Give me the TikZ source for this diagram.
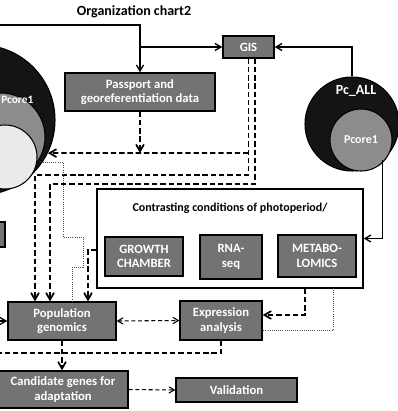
\documentclass[tikz,border=0pt]{standalone}
\usepackage{fontspec}
\setmainfont{Carlito}
\usetikzlibrary{arrows}
\begin{document}
\begin{tikzpicture}[x=0.75pt,y=-0.75pt,>=angle 60,
	box/.style={draw=black,line width=1pt,fill=black!55,text=white,inner sep=0pt,align=center,font=\bfseries\fontsize{9.5}{11}\selectfont},
	ring/.style={circle,draw=black,line width=0.8pt,inner sep=0pt},
	solidline/.style={line width=1pt},
	dashline/.style={line width=1.3pt,dash pattern=on 4pt off 2.2pt},
	thindash/.style={line width=0.8pt,dash pattern=on 3pt off 2pt},
	dotline/.style={line width=0.6pt,densely dotted,black!70}]
	\useasboundingbox (0,0) rectangle (398,411);
	\clip (0,0) rectangle (398,411);
	% circles
	\node[ring,fill=black!92,minimum size=112.5pt] (leftouter) at (-20,120) {};
	\node[ring,fill=black!45,minimum size=66pt] (leftmid) at (1,137) {};
	\node[ring,fill=black!8,minimum size=48pt] (leftinner) at (5,157) {};
	\node[anchor=east,text=white,font=\bfseries\fontsize{8.5}{9}\selectfont] (lefttxt) at (38,100) {Pcore1};
	\node[ring,fill=black!92,minimum size=70.5pt] (pcall) at (352,124) {};
	\node[ring,fill=black!45,minimum size=46.5pt,text=white,font=\bfseries\fontsize{9}{10}\selectfont] (pcore) at (361,140) {Pcore1};
	\node[text=white,font=\bfseries\fontsize{10.5}{11}\selectfont] (pcalltxt) at (356,91) {Pc\_ALL};
	% title
	\node[font=\bfseries\fontsize{10.5}{11}\selectfont] (title) at (134,12) {Organization chart2};
	% frame of the photoperiod block
	\node[draw=black,line width=1pt,fill=white,minimum width=199.5pt,minimum height=74.25pt] (contrast) at (230,238.5) {};
	\node[font=\bfseries\fontsize{9}{10}\selectfont] (contrasttxt) at (230,208) {Contrasting conditions of photoperiod/};
	% boxes
	\node[box,minimum width=38.25pt,minimum height=16.5pt] (gis) at (248.5,47) {GIS};
	\node[box,minimum width=112.5pt,minimum height=28.5pt] (passport) at (140,92) {Passport and\\georeferentiation data};
	\node[box,minimum width=58.5pt,minimum height=29.25pt] (growth) at (144,256.5) {GROWTH\\CHAMBER};
	\node[box,minimum width=46.5pt,minimum height=33pt] (rnaseq) at (231,257) {RNA-\\seq};
	\node[box,minimum width=58.5pt,minimum height=31.5pt] (metab) at (317,256) {METABO-\\LOMICS};
	\node[box,minimum width=81pt,minimum height=28.5pt] (popgen) at (62,321) {Population\\genomics};
	\node[box,minimum width=61.5pt,minimum height=29.25pt] (expr) at (221,320.5) {Expression\\analysis};
	\node[box,minimum width=97.5pt,minimum height=27.75pt] (cand) at (63,389.5) {Candidate genes for\\adaptation};
	\node[box,minimum width=90.75pt,minimum height=18pt] (valid) at (236.5,390) {Validation};
	\node[box,minimum width=18.75pt,minimum height=18.75pt] (sliver) at (-7.5,234.5) {};
	% coordinates for the bends
	\coordinate (lin) at (0,25);
	\coordinate (split) at (140,47);
	\coordinate (hub) at (140,153);
	\coordinate (cA) at (35,175);
	\coordinate (cB) at (50,184);
	\coordinate (cC) at (88,250);
	\coordinate (cD) at (305,315);
	\coordinate (cE) at (0,353);
	\coordinate (lin2) at (-10,321);
	% solid connectors
	\draw[solidline,->] (lin) -| (passport.north);
	\draw[solidline,->] (split) -- (gis.west);
	\draw[solidline,->] (pcall.north) |- (gis.east);
	\draw[solidline,->] (pcall.-50) |- (contrast.east);
	\draw[solidline,->] (lin2) -- (popgen.west);
	% dashed connectors
	\draw[dashline,->] (passport.south) -- (hub);
	\draw[dashline,->] (gis.south |- hub) -- (leftouter.-26);
	\draw[dashline,->] (gis.south) |- (cA) -- (cA |- popgen.north);
	\draw[dashline,->] ([xshift=5pt]gis.south) |- (cB) -- (cB |- popgen.north);
	\draw[dashline,->] (contrast.west |- cC) -- (cC) -- (cC |- popgen.north);
	\draw[dashline,->] (cD |- contrast.south) -- (cD) -- (cD -| expr.east);
	\draw[dashline] (expr.south) |- (cE);
	\draw[dashline,->] (popgen.south) -- (popgen.south |- cand.north);
	\draw[thindash,<->] (popgen.east) -- (expr.west);
	\draw[thindash,->] (cand.east) -- (valid.west);
	% dotted connectors
	\draw[dotline] (leftouter.-34) -| (63,237) -| (83,267) -| (72,302);
	\draw[dotline] (333,288) |- (expr.east |- 0,330);
\end{tikzpicture}
\end{document}
